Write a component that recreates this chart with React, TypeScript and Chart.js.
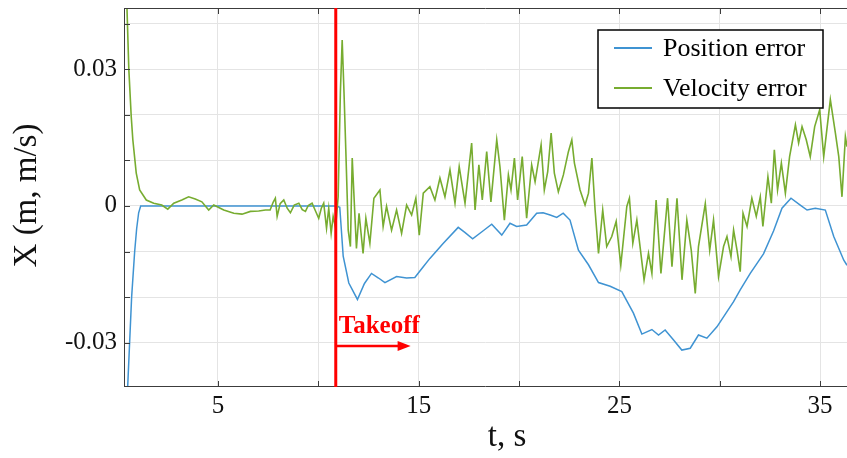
import React, { useEffect, useRef } from "react";
import { Chart, registerables } from "chart.js";

Chart.register(...registerables);

// ---- Data ----
// Position error (blue): time [s] and value [m]
const posT = [
  0.32, 0.4, 0.5, 0.6, 0.7, 0.85, 0.95, 1.05, 1.15, 2, 4, 6, 8, 10, 10.9, 11.07, 11.24, 11.52,
  11.95, 12.3, 12.65, 13.0, 13.32, 13.9, 14.4, 14.81, 15.2, 15.56, 16.23, 16.97, 17.3, 17.69,
  18.2, 18.64, 19.14, 19.55, 19.88, 20.38, 20.88, 21.2, 21.55, 21.88, 22.2, 22.54, 22.96, 23.46,
  23.96, 24.54, 25.12, 25.7, 26.12, 26.62, 26.95, 27.28, 27.7, 28.11, 28.53, 28.94, 29.36, 29.86,
  30.69, 31.02, 31.52, 32.18, 32.68, 33.1, 33.55, 34.01, 34.35, 34.76, 35.26, 35.68, 36.18, 36.34,
];
const posV = [
  -0.058, -0.05, -0.04, -0.03, -0.02, -0.0101, -0.005, -0.0015, 0, 0, 0, 0, 0, 0, 0, -0.0003,
  -0.011, -0.0169, -0.0205, -0.017, -0.0148, -0.0158, -0.0168, -0.0155, -0.0158, -0.0157, -0.0135,
  -0.0115, -0.0082, -0.0047, -0.0058, -0.0072, -0.0055, -0.004, -0.0064, -0.0038, -0.0045, -0.0042,
  -0.0016, -0.0015, -0.002, -0.0025, -0.0016, -0.0031, -0.0097, -0.0129, -0.0168, -0.0176, -0.0188,
  -0.0235, -0.0281, -0.0271, -0.0283, -0.0272, -0.0294, -0.0316, -0.0312, -0.0283, -0.029, -0.0265,
  -0.021, -0.0184, -0.0148, -0.0105, -0.0055, -0.0005, 0.0017, 0.0002, -0.0009, -0.0005, -0.0009,
  -0.0067, -0.0119, -0.013,
];

// Velocity error (green): time [s] and value [m/s]
const velT = [
  0.32, 0.45, 0.56, 0.68, 0.76, 0.93, 1.1, 1.43, 1.8, 2.2, 2.5, 2.8, 3.2, 3.54, 3.87, 4.2, 4.54,
  4.79, 5.29, 5.79, 6.2, 6.62, 7.03, 7.37, 7.6, 7.75, 7.86, 7.95, 8.1, 8.28, 8.45, 8.61, 8.8, 9.03,
  9.2, 9.36, 9.5, 9.69, 9.85, 10.02, 10.15, 10.27, 10.41, 10.52, 10.64, 10.74, 10.86, 10.99, 11.1,
  11.19, 11.28, 11.37, 11.49, 11.6, 11.69, 11.9, 12.03, 12.23, 12.37, 12.57, 12.77, 13.07, 13.23,
  13.4, 13.65, 13.9, 14.15, 14.4, 14.65, 14.86, 15.03, 15.23, 15.56, 15.81, 16.06, 16.31, 16.56,
  16.81, 17.02, 17.14, 17.31, 17.64, 17.81, 18.0, 18.17, 18.39, 18.6, 18.89, 19.05, 19.27, 19.47,
  19.6, 19.77, 19.93, 20.16, 20.38, 20.63, 20.8, 21.1, 21.26, 21.43, 21.6, 21.76, 21.96, 22.21,
  22.46, 22.63, 22.76, 23.04, 23.29, 23.46, 23.63, 23.79, 23.96, 24.17, 24.37, 24.62, 24.84, 25.07,
  25.37, 25.5, 25.67, 25.87, 26.23, 26.45, 26.62, 26.83, 27.07, 27.4, 27.62, 27.87, 28.12, 28.36,
  28.58, 28.78, 28.94, 29.28, 29.5, 29.69, 29.94, 30.19, 30.36, 30.56, 30.69, 30.86, 31.02, 31.16,
  31.36, 31.6, 31.82, 32.02, 32.15, 32.4, 32.57, 32.72, 32.88, 33.07, 33.27, 33.48, 33.77, 33.93,
  34.1, 34.31, 34.51, 34.73, 34.98, 35.18, 35.51, 35.76, 35.93, 36.09, 36.26, 36.34,
];
const velV = [
  0.07, 0.046, 0.03, 0.0196, 0.0145, 0.0072, 0.0035, 0.0013, 0.0006, 0.0002, -0.0007, 0.0006,
  0.0013, 0.002, 0.0015, 0.0009, -0.0009, 0.0002, -0.0009, -0.0016, -0.0018, -0.0012, -0.0011,
  -0.0009, -0.0009, 0.0008, 0.0017, -0.0023, 0.0005, 0.0013, -0.0005, -0.0015, 0.0002, 0.0006,
  -0.0008, -0.0012, 0.0001, 0.0006, -0.001, -0.0027, -0.0005, 0.0006, -0.0049, -0.0005, -0.006,
  -0.0023, -0.0048, 0.002, 0.025, 0.0364, 0.025, 0.0123, -0.0053, -0.0089, 0.0105, -0.0093, -0.0016,
  -0.0104, -0.0027, -0.0082, 0.0017, 0.0035, -0.0045, -0.0001, -0.0053, -0.0009, -0.006, 0.0002,
  -0.002, 0.0017, -0.0064, 0.0028, 0.0042, 0.0013, 0.0061, 0.002, 0.0079, 0.0006, 0.0086, 0.0053,
  0.0006, 0.0138, -0.0009, 0.009, 0.0013, 0.0119, 0.0009, 0.0145, 0.0086, -0.0031, 0.0068, 0.0035,
  0.0105, 0.0013, 0.0108, -0.0027, 0.009, 0.0053, 0.0134, 0.0035, 0.0075, 0.016, 0.0072, 0.0031,
  0.0068, 0.0119, 0.0145, 0.0094, 0.0035, 0.0002, 0.0028, 0.0105, -0.0009, -0.0104, -0.0009,
  -0.0089, -0.0067, -0.0034, -0.013, -0.0001, 0.0017, -0.0082, -0.0031, -0.0162, -0.0104, -0.0148,
  0.0013, -0.0148, 0.0017, -0.0133, 0.0017, -0.0162, -0.0031, -0.0097, -0.0192, -0.0089, 0.0005,
  -0.0097, -0.0031, -0.0155, -0.0089, -0.0067, -0.0111, -0.0053, -0.0097, -0.0144, -0.0016,
  -0.0045, 0.0017, -0.0023, 0.002, -0.0045, 0.0064, 0.0006, 0.0123, 0.0035, 0.0094, 0.0028, 0.0108,
  0.0178, 0.0138, 0.0174, 0.0145, 0.0108, 0.0174, 0.0211, 0.0108, 0.0233, 0.016, 0.0108, 0.002,
  0.0152, 0.013,
];

const seriesNames = ["Position error", "Velocity error"];
const xTickLabels = [5, 15, 25, 35];
const yTickLabels = [-0.03, 0, 0.03];
const xTitle = "t, s";
const yTitle = "X (m, m/s)";
const takeoffText = "Takeoff";
const takeoffT = 10.87;
const takeoffArrowEndT = 14.6;
const takeoffArrowY = -0.0307;
const takeoffLabelY = -0.0279;

const X_MIN = 0.32;
const X_MAX = 36.34;
const Y_MIN = -0.0397;
const Y_MAX = 0.0434;

const BLUE = "#3f93d2";
const GREEN = "#77ac30";
const SERIF = "'Liberation Serif', 'Times New Roman', serif";

const overlayPlugin = {
  id: "overlay",
  afterDatasetsDraw(chart: any) {
    const { ctx, chartArea: a } = chart;
    const xs = chart.scales.x;
    const ys = chart.scales.y;
    ctx.save();

    // axes box (MATLAB style) with inward ticks
    ctx.strokeStyle = "#3c3c3c";
    ctx.lineWidth = 1;
    ctx.beginPath();
    ctx.moveTo(a.left + 0.5, a.top);
    ctx.lineTo(a.left + 0.5, a.bottom);
    ctx.moveTo(a.left, a.top + 0.5);
    ctx.lineTo(a.right, a.top + 0.5);
    ctx.moveTo(a.left, a.bottom - 0.5);
    ctx.lineTo(a.right, a.bottom - 0.5);
    const tl = 6;
    xs.ticks.forEach((t: any) => {
      const px = Math.round(xs.getPixelForValue(t.value)) + 0.5;
      ctx.moveTo(px, a.bottom);
      ctx.lineTo(px, a.bottom - tl);
      ctx.moveTo(px, a.top);
      ctx.lineTo(px, a.top + tl);
    });
    ys.ticks.forEach((t: any) => {
      const py = Math.round(ys.getPixelForValue(t.value)) + 0.5;
      ctx.moveTo(a.left, py);
      ctx.lineTo(a.left + tl, py);
    });
    ctx.stroke();

    // takeoff marker
    const rx = xs.getPixelForValue(takeoffT);
    ctx.strokeStyle = "#ff0000";
    ctx.fillStyle = "#ff0000";
    ctx.lineWidth = 3;
    ctx.beginPath();
    ctx.moveTo(rx, a.top);
    ctx.lineTo(rx, a.bottom);
    ctx.stroke();

    const ay = ys.getPixelForValue(takeoffArrowY);
    const ax2 = xs.getPixelForValue(takeoffArrowEndT);
    ctx.lineWidth = 2.5;
    ctx.beginPath();
    ctx.moveTo(rx, ay);
    ctx.lineTo(ax2 - 8, ay);
    ctx.stroke();
    ctx.beginPath();
    ctx.moveTo(ax2, ay);
    ctx.lineTo(ax2 - 13, ay - 5);
    ctx.lineTo(ax2 - 13, ay + 5);
    ctx.closePath();
    ctx.fill();

    ctx.font = `bold 25px ${SERIF}`;
    ctx.textAlign = "left";
    ctx.textBaseline = "alphabetic";
    ctx.fillText(takeoffText, rx + 3, ys.getPixelForValue(takeoffLabelY));

    // legend
    const bw = 225;
    const bh = 78;
    const bx = a.right - 24 - bw;
    const by = a.top + 22;
    ctx.fillStyle = "#ffffff";
    ctx.fillRect(bx, by, bw, bh);
    ctx.strokeStyle = "#000000";
    ctx.lineWidth = 1.5;
    ctx.strokeRect(bx, by, bw, bh);
    const colors = [BLUE, GREEN];
    const rows = [by + 18, by + 58];
    ctx.font = `26px ${SERIF}`;
    ctx.textBaseline = "middle";
    seriesNames.forEach((name, i) => {
      ctx.strokeStyle = colors[i];
      ctx.lineWidth = 2;
      ctx.beginPath();
      ctx.moveTo(bx + 16, rows[i]);
      ctx.lineTo(bx + 54, rows[i]);
      ctx.stroke();
      ctx.fillStyle = "#000000";
      ctx.fillText(name, bx + 65, rows[i] + 1);
    });

    // axis titles
    ctx.fillStyle = "#111111";
    ctx.font = `33px ${SERIF}`;
    ctx.textAlign = "center";
    ctx.textBaseline = "middle";
    ctx.fillText(xTitle, a.left + 383, a.bottom + 50);
    ctx.save();
    ctx.translate(27, (a.top + a.bottom) / 2 - 2);
    ctx.rotate(-Math.PI / 2);
    ctx.fillText(yTitle, 0, 0);
    ctx.restore();

    ctx.restore();
  },
};

export default function App() {
  const canvasRef = useRef<HTMLCanvasElement | null>(null);

  useEffect(() => {
    if (!canvasRef.current) return;
    const chart = new Chart(canvasRef.current, {
      type: "line",
      data: {
        datasets: [
          {
            label: seriesNames[0],
            data: posT.map((t, i) => ({ x: t, y: posV[i] })),
            borderColor: BLUE,
            borderWidth: 1.5,
            pointRadius: 0,
            tension: 0,
            clip: 0,
            order: 1,
          },
          {
            label: seriesNames[1],
            data: velT.map((t, i) => ({ x: t, y: velV[i] })),
            borderColor: GREEN,
            borderWidth: 1.6,
            pointRadius: 0,
            tension: 0,
            clip: 0,
            order: 0,
          },
        ],
      },
      options: {
        responsive: false,
        animation: false,
        devicePixelRatio: 1,
        layout: { padding: { left: 0, top: 8, right: 0, bottom: 0 } },
        plugins: {
          legend: { display: false },
          tooltip: { enabled: false },
          title: { display: false },
        },
        scales: {
          x: {
            type: "linear",
            min: X_MIN,
            max: X_MAX,
            border: { display: false },
            grid: { color: "#e4e4e4", lineWidth: 1, drawTicks: false },
            ticks: {
              stepSize: 5,
              includeBounds: false,
              autoSkip: false,
              maxRotation: 0,
              padding: 4,
              color: "#111111",
              font: { family: SERIF, size: 25 },
              callback: (v: any) => (xTickLabels.includes(Number(v)) ? String(v) : ""),
            },
            afterFit: (s: any) => {
              s.height = 71;
              s.paddingLeft = 0;
              s.paddingRight = 0;
            },
          },
          y: {
            type: "linear",
            min: Y_MIN,
            max: Y_MAX,
            border: { display: false },
            grid: { color: "#e4e4e4", lineWidth: 1, drawTicks: false },
            ticks: {
              stepSize: 0.01,
              includeBounds: false,
              autoSkip: false,
              padding: 7,
              color: "#111111",
              font: { family: SERIF, size: 25 },
              callback: (v: any) => {
                const n = Math.round(Number(v) * 100) / 100;
                const hit = yTickLabels.find((l) => Math.abs(l - n) < 1e-9);
                if (hit === undefined) return "";
                return hit === 0 ? "0" : hit.toFixed(2);
              },
            },
            afterFit: (s: any) => {
              s.width = 124;
              s.paddingTop = 0;
              s.paddingBottom = 0;
            },
          },
        },
      },
      plugins: [overlayPlugin],
    });
    return () => chart.destroy();
  }, []);

  return (
    <div
      style={{
        position: "absolute",
        left: 0,
        top: 0,
        width: 847,
        height: 458,
        background: "#ffffff",
      }}
    >
      <canvas ref={canvasRef} width={847} height={458} style={{ display: "block" }} />
    </div>
  );
}
